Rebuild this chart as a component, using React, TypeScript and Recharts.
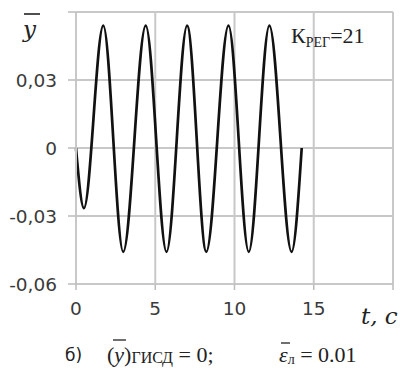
import React from 'react';
import { LineChart, Line, XAxis, YAxis, CartesianGrid } from 'recharts';

const times = [0, 0.5, 1.72, 2.98, 4.4, 5.71, 7.01, 8.22, 9.62, 10.9, 12.2, 13.6, 14.24];
const values = [0, -0.0265, 0.054, -0.0458, 0.054, -0.0458, 0.054, -0.0458, 0.054, -0.0458, 0.054, -0.0458, 0];
const xTicks = [0, 5, 10, 15, 20];
const yTicks = [-0.06, -0.03, 0, 0.03, 0.06];

const data = times.map((t, i) => ({ t, y: values[i] }));

const GRID = '#c8c8c8';
const TICK_FONT = { fill: '#3a3a3a', fontSize: 18.5, fontFamily: 'DejaVu Sans, sans-serif' };

export default function App() {
  return (
    <div style={{ position: 'absolute', left: 0, top: 0, width: 408, height: 369, background: '#fff' }}>
      <LineChart width={408} height={369} data={data} margin={{ top: 12, right: 15, bottom: 55, left: 0 }}>
        <CartesianGrid stroke={GRID} strokeWidth={2} />
        <XAxis
          dataKey="t"
          type="number"
          domain={[0, 20]}
          ticks={xTicks}
          tickFormatter={(v: number) => (v === 20 ? '' : String(v))}
          tickSize={6}
          tickMargin={12}
          height={30}
          axisLine={{ stroke: GRID, strokeWidth: 2 }}
          tickLine={{ stroke: '#bbb', strokeWidth: 1.5 }}
          tick={TICK_FONT}
        />
        <YAxis
          type="number"
          domain={[-0.06, 0.06]}
          ticks={yTicks}
          width={76}
          tickFormatter={(v: number) => (v === 0.06 ? '' : v === 0 ? '0' : v.toFixed(2).replace('.', ','))}
          tickSize={8}
          tickMargin={11}
          axisLine={{ stroke: GRID, strokeWidth: 2 }}
          tickLine={{ stroke: '#bbb', strokeWidth: 1.5 }}
          tick={TICK_FONT}
        />
        <Line
          type="monotone"
          dataKey="y"
          stroke="#111"
          strokeWidth={2.7}
          dot={false}
          isAnimationActive={false}
        />
      </LineChart>
      <svg width={408} height={369} style={{ position: 'absolute', left: 0, top: 0, pointerEvents: 'none' }}>
        <text x={23} y={37} fontFamily="DejaVu Serif, serif" fontStyle="italic" fontSize={23} fill="#222">y</text>
        <line x1={24} y1={14} x2={40} y2={14} stroke="#222" strokeWidth={1.6} />
        <text x={291} y={43} fontFamily="Liberation Serif, Times New Roman, serif" fontSize={22} fill="#222">
          К<tspan fontSize={14} dy={4}>РЕГ</tspan><tspan dy={-4}>=21</tspan>
        </text>
        <text x={361} y={324} fontFamily="DejaVu Serif, serif" fontStyle="italic" fontSize={23} fill="#222">t, c</text>
        <text x={65} y={361} fontFamily="DejaVu Sans, sans-serif" fontSize={17} fill="#222">б)</text>
        <text x={107} y={362} fontFamily="Liberation Serif, Times New Roman, serif" fontSize={22} fill="#222">
          (<tspan fontStyle="italic">y</tspan>)<tspan fontSize={16} dy={1}>ГИСД</tspan><tspan dy={-1}> = 0;</tspan>
        </text>
        <line x1={113} y1={340} x2={126} y2={340} stroke="#222" strokeWidth={1.3} />
        <text x={279} y={362} fontFamily="Liberation Serif, Times New Roman, serif" fontSize={22} fill="#222">
          <tspan fontStyle="italic">ε</tspan><tspan fontSize={14} dy={2}>л</tspan><tspan dy={-2}> = 0.01</tspan>
        </text>
        <line x1={281} y1={343} x2={290} y2={343} stroke="#222" strokeWidth={1.3} />
      </svg>
    </div>
  );
}
